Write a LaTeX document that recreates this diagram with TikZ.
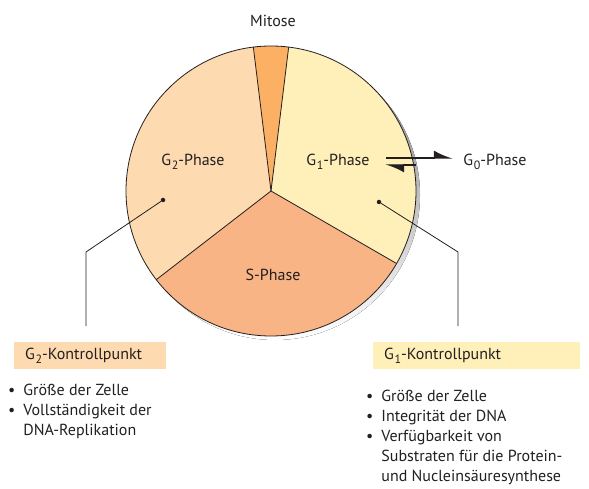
\documentclass[tikz,border=0pt]{standalone}
\usepackage{fontspec}
\setmainfont{PT Sans}
\usetikzlibrary{arrows.meta}
\definecolor{gtwofill}{RGB}{253,218,176}
\definecolor{gonefill}{RGB}{255,239,185}
\definecolor{sfill}{RGB}{248,180,132}
\definecolor{mfill}{RGB}{252,176,100}
\definecolor{shade}{RGB}{192,194,198}
\definecolor{ink}{RGB}{35,31,32}
\newcommand{\Gidx}[1]{G\kern0.6pt\raisebox{-0.45ex}{\fontsize{12}{12}\selectfont #1}}

\begin{document}
\begin{tikzpicture}[x=1pt, y=1pt, font=\fontsize{16}{20}\selectfont, text=ink,
    phase/.style={inner sep=0pt},
    dot/.style={circle, fill=ink, inner sep=0pt, minimum size=4.5pt},
    kbox/.style={anchor=north west, inner xsep=11pt, inner ysep=0pt, minimum height=27pt, align=left},
    pointer/.style={draw=ink, line width=0.8pt},
    swapline/.style={draw=ink, line width=1.2pt, -{Latex[left, length=17pt, width=15pt]}}]
    \useasboundingbox (0,0) rectangle (589,-489);

    \coordinate (c) at (271,-191);
    \fill[shade] ([shift={(4pt,-4pt)}]c) circle[radius=145pt];
    \fill[gonefill] (c) -- ([shift={(-30:145pt)}]c) arc[start angle=-30, end angle=83, radius=145pt] -- cycle;
    \fill[mfill] (c) -- ([shift={(83:145pt)}]c) arc[start angle=83, end angle=97, radius=145pt] -- cycle;
    \fill[gtwofill] (c) -- ([shift={(97:145pt)}]c) arc[start angle=97, end angle=217.7, radius=145pt] -- cycle;
    \fill[sfill] (c) -- ([shift={(217.7:145pt)}]c) arc[start angle=217.7, end angle=330, radius=145pt] -- cycle;
    \draw[ink, line width=0.8pt] (c) circle[radius=145pt];
    \foreach \a in {-30, 83, 97, 217.7}
        \draw[ink, line width=0.8pt] (c) -- ([shift={(\a:145pt)}]c);

    \node[phase] (mitose) at (273,-21) {Mitose};
    \node[phase] (gtwo) at (193,-162) {\Gidx{2}-Phase};
    \node[phase] (gone) at (338,-162) {\Gidx{1}-Phase};
    \node[phase] (sphase) at (273,-275) {S-Phase};
    \node[phase] (gzero) at (495,-162) {\Gidx{0}-Phase};

    \coordinate (torightA) at (386,-158);
    \coordinate (torightB) at (453,-158);
    \coordinate (toleftA) at (416,-165);
    \coordinate (toleftB) at (385,-165);
    \draw[swapline] (torightA) -- (torightB);
    \draw[swapline] (toleftA) -- (toleftB);

    \node[dot] (gtwodot) at (163,-200) {};
    \coordinate (gtwobend) at (86,-252);
    \coordinate (gtwoend) at (86,-326);
    \draw[pointer] (gtwodot) -- (gtwobend) -- (gtwoend);

    \node[dot] (gonedot) at (379,-202) {};
    \coordinate (gonebend) at (458,-252);
    \coordinate (goneend) at (458,-326);
    \draw[pointer] (gonedot) -- (gonebend) -- (goneend);

    \node[kbox, fill=gtwofill, text width=130pt] (gtwobox) at (14,-342) {\Gidx{2}-Kontrollpunkt};
    \node[kbox, fill=gonefill, text width=185pt] (gonebox) at (373,-342) {\Gidx{1}-Kontrollpunkt};

    \node[anchor=north west, inner sep=0pt] (gtwolist) at (8,-381) {%
        \begin{tabular}{@{}l@{\hspace{8pt}}l@{}}
            \textbullet & Größe der Zelle\\
            \textbullet & Vollständigkeit der\\
                        & DNA-Replikation
        \end{tabular}};
    \node[anchor=north west, inner sep=0pt] (gonelist) at (366,-387) {%
        \begin{tabular}{@{}l@{\hspace{8pt}}l@{}}
            \textbullet & Größe der Zelle\\
            \textbullet & Integrität der DNA\\
            \textbullet & Verfügbarkeit von\\
                        & Substraten für die Protein-\\
                        & und Nucleinsäuresynthese
        \end{tabular}};
\end{tikzpicture}
\end{document}
